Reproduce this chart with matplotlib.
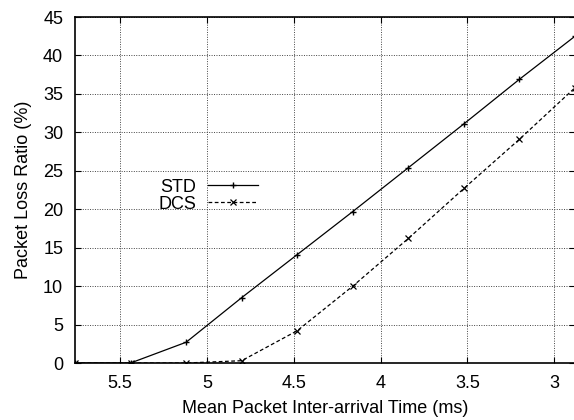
import matplotlib

matplotlib.use("Agg")
import matplotlib.pyplot as plt

# mean packet inter-arrival time (ms), plotted on a reversed axis
inter_arrival = [5.76, 5.44, 5.12, 4.80, 4.48, 4.16, 3.84, 3.52, 3.20, 2.88]
std_loss = [0, 0, 2.7, 8.5, 14.1, 19.7, 25.4, 31.1, 36.9, 42.5]
dcs_loss = [0, 0, 0, 0.3, 4.2, 10.0, 16.2, 22.7, 29.1, 35.8]

x_ticks = [5.5, 5, 4.5, 4, 3.5, 3]
x_tick_labels = ["5.5", "5", "4.5", "4", "3.5", "3"]
y_ticks = [0, 5, 10, 15, 20, 25, 30, 35, 40, 45]

plt.rcParams["font.family"] = ["Liberation Sans", "DejaVu Sans"]
plt.rcParams["font.size"] = 13

fig = plt.figure(figsize=(5.74, 4.2), dpi=100)
ax = fig.add_axes([0.1307, 0.1357, 0.8710, 0.8238])

ax.plot(inter_arrival, std_loss, color="black", linewidth=0.9,
        marker="+", markersize=5, markeredgewidth=1.0, label="STD")
ax.plot(inter_arrival, dcs_loss, color="black", linewidth=0.9,
        linestyle=(0, (3, 2)), marker="x", markersize=4.5,
        markeredgewidth=0.9, label="DCS")

ax.set_xlim(5.76, 2.88)
ax.set_ylim(0, 45)
ax.set_xticks(x_ticks)
ax.set_xticklabels(x_tick_labels)
ax.set_yticks(y_ticks)

ax.grid(True, color="#444444", linestyle=(0, (1, 1.5)), linewidth=0.7)
ax.set_axisbelow(True)
ax.tick_params(direction="in", top=True, right=True, length=4,
               width=0.8, labelsize=13, pad=8.5)
for side in ("top", "bottom", "left", "right"):
    ax.spines[side].set_linewidth(1.2)

ax.set_xlabel("Mean Packet Inter-arrival Time (ms)", fontsize=13, labelpad=6)
ax.set_ylabel("Packet Loss Ratio (%)", fontsize=13, labelpad=8)

ax.legend(loc="upper left", bbox_to_anchor=(146 / 574, 1 - 166 / 420),
          bbox_transform=fig.transFigure, frameon=False, markerfirst=False,
          handlelength=2.75, handletextpad=0.65, labelspacing=0.0,
          borderpad=0.2, fontsize=13)

fig.savefig("out.png", dpi=100)
